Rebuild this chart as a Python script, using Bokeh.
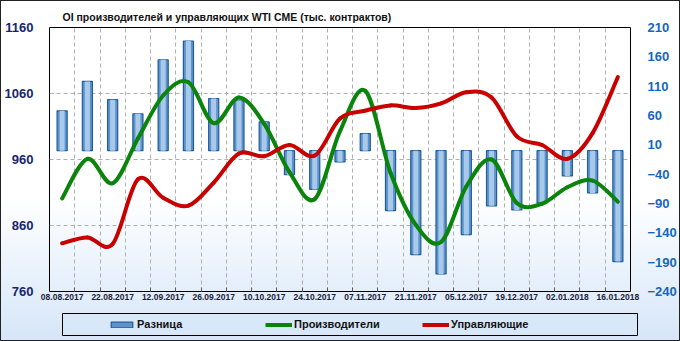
import numpy as np
from bokeh.plotting import figure
from bokeh.layouts import column
from bokeh.models import (Range1d, LinearAxis, FixedTicker, Legend, LegendItem)
from bokeh.embed import file_html
from bokeh.resources import INLINE

# ---------------- data ----------------
dates = ["08.08.2017", "15.08.2017", "22.08.2017", "05.09.2017", "12.09.2017",
         "19.09.2017", "26.09.2017", "03.10.2017", "10.10.2017", "17.10.2017",
         "24.10.2017", "31.10.2017", "07.11.2017", "14.11.2017", "21.11.2017",
         "28.11.2017", "05.12.2017", "12.12.2017", "19.12.2017", "26.12.2017",
         "02.01.2018", "09.01.2018", "16.01.2018"]
producers = [901, 961, 924, 992, 1057, 1077, 1015, 1054, 1014, 941, 900, 1003,
             1064, 940, 861, 835, 919, 960, 894, 893, 918, 928, 896]
managers = [833, 842, 832, 930, 902, 890, 925, 969, 965, 982, 966, 1022,
            1034, 1042, 1038, 1045, 1062, 1054, 995, 982, 961, 1000, 1085]
difference = [68, 118, 87, 63, 155, 187, 89, 85, 49, -41, -66, -19, 29, -102,
              -177, -210, -143, -94, -101, -89, -43, -72, -189]
left_ticks = [760, 860, 960, 1060, 1160]
right_ticks = [-240, -190, -140, -90, -40, 10, 60, 110, 160, 210]
series_names = ["Разница", "Производители", "Управляющие"]
title_text = "OI производителей и управляющих WTI CME (тыс. контрактов)"

# ---------------- styles ----------------
BAR_FILL, BAR_LINE, BAR_CORE = "#5f94cb", "#1f5d9c", "#a8c9ea"
GREEN, RED = "#0b840b", "#c80000"

# ---------------- helpers ----------------
def bezier_parts(xs, ys):
    n = len(xs)
    out = {k: [] for k in ("x0", "y0", "x1", "y1", "cx0", "cy0", "cx1", "cy1")}
    for i in range(n - 1):
        xp, yp = (xs[i - 1], ys[i - 1]) if i > 0 else (xs[i], ys[i])
        xn, yn = (xs[i + 2], ys[i + 2]) if i + 2 < n else (xs[i + 1], ys[i + 1])
        out["x0"].append(xs[i]); out["y0"].append(ys[i])
        out["x1"].append(xs[i + 1]); out["y1"].append(ys[i + 1])
        out["cx0"].append(xs[i] + (xs[i + 1] - xp) / 6.0)
        out["cy0"].append(ys[i] + (ys[i + 1] - yp) / 6.0)
        out["cx1"].append(xs[i + 1] - (xn - xs[i]) / 6.0)
        out["cy1"].append(ys[i + 1] - (yn - ys[i]) / 6.0)
    return out

x = list(range(len(dates)))

# ---------------- main chart ----------------
p = figure(width=678, height=306, output_backend="svg", toolbar_location=None,
           x_range=Range1d(-0.5, len(dates) - 0.5),
           y_range=Range1d(left_ticks[0], left_ticks[-1]),
           min_border_left=48, min_border_right=43, min_border_top=26,
           min_border_bottom=16)
p.frame_align = False
p.extra_y_ranges = {"right": Range1d(right_ticks[0], right_ticks[-1])}

p.background_fill_alpha = 0
p.border_fill_alpha = 0
p.outline_line_color = "black"
p.outline_line_width = 1

p.title.text = title_text
p.title.text_font = "Liberation Sans"
p.title.text_font_size = "10.5px"
p.title.text_font_style = "bold"
p.title.text_color = "#111111"
p.title.align = "left"
p.title.offset = 13

xa = p.xaxis[0]
xa.ticker = FixedTicker(ticks=x[::2], minor_ticks=[i + 0.5 for i in x[:-1]])
xa.major_label_overrides = {i: dates[i] for i in x[::2]}
xa.major_label_text_font = "Liberation Sans"
xa.major_label_text_font_size = "8.5px"
xa.major_label_text_font_style = "bold"
xa.major_label_text_color = "#1c1c3a"
xa.major_label_standoff = 2
xa.axis_line_color = None
xa.major_tick_in = 0
xa.major_tick_out = 0
xa.minor_tick_in = 4
xa.minor_tick_out = 0
xa.minor_tick_line_color = "#555555"

ya = p.yaxis[0]
ya.ticker = FixedTicker(ticks=left_ticks)
ya.major_label_text_font = "Liberation Sans"
ya.major_label_text_font_size = "13px"
ya.major_label_text_font_style = "bold"
ya.major_label_text_color = "#16266e"
ya.major_label_standoff = 10
ya.axis_line_color = None
ya.major_tick_line_color = None
ya.minor_tick_line_color = None

ra = LinearAxis(y_range_name="right", ticker=FixedTicker(ticks=right_ticks))
ra.major_label_text_font = "Liberation Sans"
ra.major_label_text_font_size = "13px"
ra.major_label_text_font_style = "bold"
ra.major_label_text_color = "#1766bb"
ra.major_label_standoff = 11
ra.axis_line_color = None
ra.major_tick_line_color = None
ra.minor_tick_line_color = None
p.add_layout(ra, "right")

p.xgrid.ticker = FixedTicker(ticks=[i + 0.5 for i in x[:-1]])
p.xgrid.grid_line_color = "#b0b0b0"
p.xgrid.grid_line_dash = "4 3"
p.ygrid.ticker = FixedTicker(ticks=left_ticks[1:-1])
p.ygrid.grid_line_color = "#b0b0b0"
p.ygrid.grid_line_dash = "4 3"

p.vbar(x=x, top=difference, bottom=0, width=0.4, y_range_name="right",
       fill_color=BAR_FILL, line_color=BAR_LINE, line_width=1.2)
p.vbar(x=x, top=difference, bottom=0, width=0.2, y_range_name="right",
       fill_color=BAR_CORE, line_color=None)

gb = bezier_parts(x, producers)
p.bezier(source=gb, x0="x0", y0="y0", x1="x1", y1="y1", cx0="cx0", cy0="cy0",
         cx1="cx1", cy1="cy1", line_color=GREEN, line_width=4, line_cap="round")
rb = bezier_parts(x, managers)
p.bezier(source=rb, x0="x0", y0="y0", x1="x1", y1="y1", cx0="cx0", cy0="cy0",
         cx1="cx1", cy1="cy1", line_color=RED, line_width=4, line_cap="round")

# ---------------- legend strip ----------------
lg = figure(width=678, height=33, output_backend="svg", toolbar_location=None,
            x_range=Range1d(0, 1), y_range=Range1d(0, 1),
            min_border_left=61, min_border_right=42, min_border_top=6,
            min_border_bottom=5)
lg.frame_align = False
lg.axis.visible = False
lg.grid.visible = False
lg.border_fill_alpha = 0
lg.background_fill_color = "#d9e8f8"
lg.background_fill_alpha = 1
lg.outline_line_color = "black"
lg.outline_line_width = 1

# legend key glyphs, placed outside the visible range (keys only)
leg_bar = lg.vbar(x=[5], top=[5], bottom=[4], width=0.1, fill_color=BAR_FILL,
                  line_color=BAR_LINE, line_width=1.2)
leg_g = lg.line(x=[5, 6], y=[5, 5], line_color=GREEN, line_width=4)
leg_r = lg.line(x=[5, 6], y=[5, 5], line_color=RED, line_width=4)

legend = Legend(items=[LegendItem(label=series_names[0], renderers=[leg_bar]),
                       LegendItem(label=series_names[1], renderers=[leg_g]),
                       LegendItem(label=series_names[2], renderers=[leg_r])],
                orientation="horizontal", location=(46, 5), margin=0,
                padding=0, spacing=18, glyph_width=27, glyph_height=7,
                label_height=12, label_width=110, label_standoff=2,
                label_text_font="Liberation Sans", label_text_font_size="11px",
                label_text_font_style="bold", label_text_color="#111111",
                border_line_color=None, background_fill_alpha=0)
lg.add_layout(legend, "center")

lay = column(p, lg, spacing=0)
lay.styles = {"background": "linear-gradient(to bottom, #ffffff 0%, #ffffff 58%, "
                            "#e9f2fc 80%, #d6e6f8 100%)",
              "border": "1px solid #222222"}

open("out.html", "w").write(file_html(lay, INLINE))
